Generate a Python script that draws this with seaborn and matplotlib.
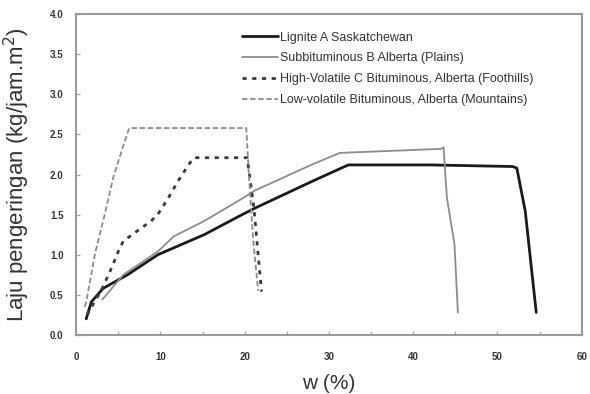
import pandas as pd
import matplotlib.pyplot as plt
import seaborn as sns

# Data
lignite_w = [1.2, 1.8, 3.2, 6.1, 9.7, 15.2, 19.7, 21.2, 28.1, 32.3, 42.0, 51.8, 52.3, 53.3, 54.6]
lignite_r = [0.20, 0.41, 0.58, 0.75, 1.00, 1.25, 1.50, 1.58, 1.92, 2.12, 2.12, 2.10, 2.08, 1.54, 0.28]

subbit_w = [3.1, 5.6, 9.7, 11.6, 15.2, 19.7, 21.2, 28.1, 31.3, 43.3, 43.6, 44.0, 44.9, 45.3]
subbit_r = [0.44, 0.75, 1.04, 1.23, 1.42, 1.70, 1.80, 2.13, 2.27, 2.32, 2.34, 1.71, 1.13, 0.28]

highvol_w = [1.3, 3.1, 4.1, 5.0, 5.6, 7.7, 8.9, 9.8, 10.9, 12.1, 13.4, 14.0, 20.3, 21.1, 22.0]
highvol_r = [0.25, 0.58, 0.81, 1.04, 1.17, 1.33, 1.42, 1.52, 1.70, 1.92, 2.13, 2.21, 2.21, 1.58, 0.54]

lowvol_w = [1.0, 1.2, 1.7, 2.3, 3.3, 4.4, 5.6, 6.3, 20.2, 20.5, 21.0, 21.6]
lowvol_r = [0.35, 0.41, 0.70, 1.04, 1.46, 1.96, 2.36, 2.58, 2.58, 2.00, 1.20, 0.55]

labels = ["Lignite A Saskatchewan",
          "Subbituminous B Alberta (Plains)",
          "High-Volatile C Bituminous, Alberta (Foothills)",
          "Low-volatile Bituminous, Alberta (Mountains)"]

sns.set_style("ticks")
plt.rcParams['font.family'] = ['Liberation Sans', 'DejaVu Sans']

fig = plt.figure(figsize=(5.9, 3.94), dpi=100)
ax = fig.add_axes([0.129, 0.15, 0.857, 0.814])

series = [
    (lignite_w, lignite_r, dict(color="#1a1a1a", lw=2.0, ls="-")),
    (subbit_w, subbit_r, dict(color="#8c8c8c", lw=1.3, ls="-")),
    (highvol_w, highvol_r, dict(color="#3a3a3a", lw=2.0, dashes=(1.5, 2.0))),
    (lowvol_w, lowvol_r, dict(color="#8c8c8c", lw=1.3, dashes=(3.0, 1.5))),
]

for (w, r, style), lab in zip(series, labels):
    df = pd.DataFrame({"w": w, "r": r})
    sns.lineplot(data=df, x="w", y="r", sort=False, estimator=None,
                 label=lab, ax=ax, **style)

ax.set_xlim(0, 60)
ax.set_ylim(0, 4)
ax.set_xticks(range(0, 61, 10))
ax.set_xticks(range(5, 60, 10), minor=True)
ax.set_yticks([i * 0.5 for i in range(9)])
ax.set_yticklabels([f"{i * 0.5:.1f}" for i in range(9)])

for s in ax.spines.values():
    s.set_color("#9a9a9a")
    s.set_linewidth(1.5)

ax.tick_params(axis="both", which="both", colors="#aaaaaa", labelcolor="#333333",
               labelsize=7, length=3, width=1, direction="in")
ax.tick_params(axis="x", pad=12)
ax.tick_params(axis="y", pad=9)
for t in ax.get_xticklabels() + ax.get_yticklabels():
    t.set_fontweight("bold")

ax.set_xlabel("w (%)", fontsize=15, color="#333333", labelpad=9)
ax.set_ylabel("Laju pengeringan (kg/jam.m$^2$)", fontsize=16, color="#333333", labelpad=13)

leg = ax.legend(loc="upper left", bbox_to_anchor=(0.315, 0.965), frameon=False,
                borderpad=0, fontsize=9, handlelength=2.9, handletextpad=0.2,
                labelspacing=0.7)
for t in leg.get_texts():
    t.set_color("#333333")

fig.savefig("out.png", dpi=100)
